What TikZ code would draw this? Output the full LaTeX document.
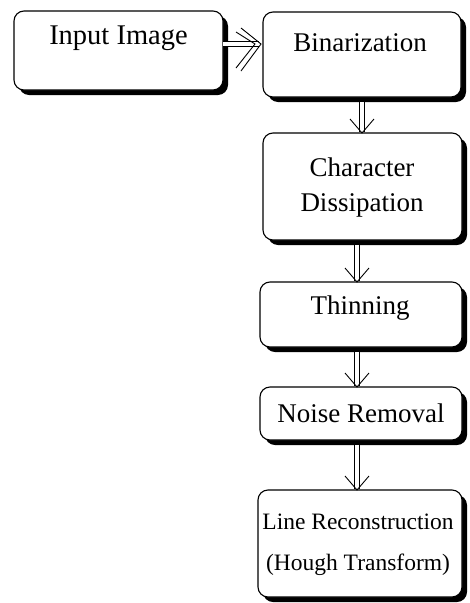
\documentclass[tikz,border=0pt]{standalone}
\usepackage{fontspec}
\setmainfont{Liberation Serif}
\usetikzlibrary{arrows.meta,shadows,calc}
\begin{document}
\begin{tikzpicture}[x=1pt,y=-1pt,
  stagebox/.style={draw=black, line width=1.1pt, fill=white, rounded corners=10pt,
    inner sep=0pt, outer sep=0pt,
    drop shadow={shadow xshift=5pt, shadow yshift=-5pt, fill=black, opacity=1}},
  lbl/.style={font=\fontsize{27}{30}\selectfont, inner sep=0pt},
  small/.style={font=\fontsize{23.5}{26}\selectfont, inner sep=0pt},
  shaft/.style={double, double distance=4.5pt, line width=0.7pt},
  barb/.style={line width=0.9pt}]
\useasboundingbox (0,0) rectangle (470,603);
\node[stagebox, minimum width=209pt, minimum height=79pt] (inp) at (118.5,50.5) {};
\node[stagebox, minimum width=198pt, minimum height=85pt] (bin) at (362,54.5) {};
\node[stagebox, minimum width=199pt, minimum height=107pt] (chr) at (362.5,186.5) {};
\node[stagebox, minimum width=202pt, minimum height=65pt] (thn) at (361,314.5) {};
\node[stagebox, minimum width=202pt, minimum height=53pt] (noi) at (361,413.5) {};
\node[stagebox, minimum width=204pt, minimum height=107pt] (lin) at (360,543.5) {};
\node[lbl, font=\fontsize{28.5}{30}\selectfont] (tinp) at (118.5,38) {Input Image};
\node[lbl] (tbin) at (360,43) {Binarization};
\node[lbl] (tchr1) at (362,167) {Character};
\node[lbl] (tchr2) at (362,205) {Dissipation};
\node[lbl] (tthn) at (360,308) {Thinning};
\node[lbl] (tnoi) at (361,413) {Noise Removal};
\node[small] (tlin1) at (358,522) {Line Reconstruction};
\node[small] (tlin2) at (358,565) {(Hough Transform)};
% horizontal arrow
\coordinate (hA) at (inp.east |- 0,44);
\coordinate (hB) at (bin.west |- 0,44);
\draw[shaft] (hA) -- ($(hB)+(-4,0)$);
\draw[barb] ($(hB)+(-22,-16)$) -- ($(hB)+(-2,0)$) -- ($(hB)+(-22,27)$);
\draw[barb] ($(hB)+(-27,-12)$) -- ($(hB)+(-8,0)$) -- ($(hB)+(-27,24)$);
% vertical arrows
\foreach \a/\b/\x in {bin/chr/362, chr/thn/357, thn/noi/357, noi/lin/357}{
  \coordinate (vA) at (\a.south -| \x,0);
  \coordinate (vB) at (\b.north -| \x,0);
  \draw[shaft] ($(vA)+(0,5)$) -- ($(vB)+(0,-1)$);
  \draw[barb] ($(vB)+(-12,-14)$) -- (vB) -- ($(vB)+(12,-14)$);
}
\end{tikzpicture}
\end{document}
